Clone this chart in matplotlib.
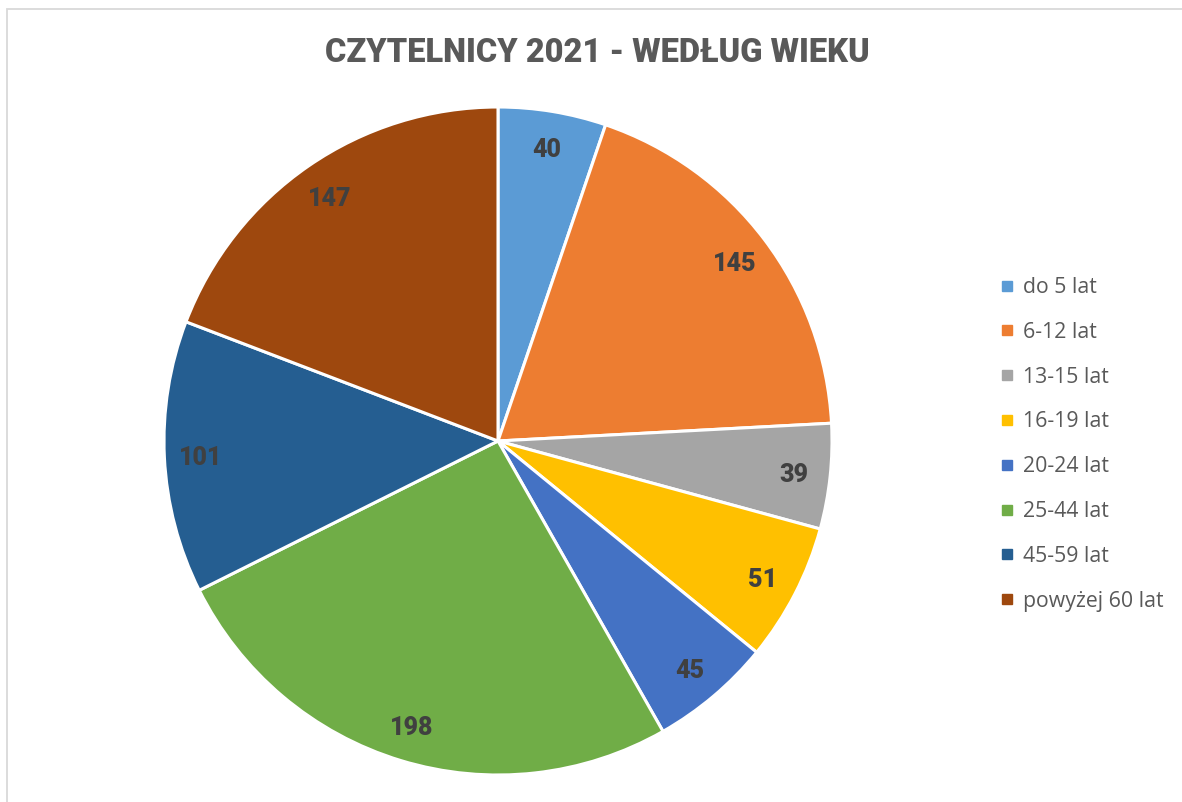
import matplotlib
matplotlib.use("Agg")
import matplotlib.pyplot as plt
from matplotlib.lines import Line2D
from matplotlib.patches import Rectangle

plt.rcParams['font.family'] = ['Open Sans', 'DejaVu Sans']

categories = ['do 5 lat', '6-12 lat', '13-15 lat', '16-19 lat',
              '20-24 lat', '25-44 lat', '45-59 lat', 'powyżej 60 lat']
values = [40, 145, 39, 51, 45, 198, 101, 147]
colors = ['#5B9BD5', '#ED7D31', '#A5A5A5', '#FFC000',
          '#4472C4', '#70AD47', '#255E91', '#9E480E']

W, H = 1182, 802
fig = plt.figure(figsize=(W / 100, H / 100), dpi=100)

# chart border (light grey frame like Excel)
fig.patches.append(Rectangle((6.5 / W, -0.01), 1.2, 1 - 8.5 / H + 0.01,
                             transform=fig.transFigure, fill=False,
                             edgecolor='#D9D9D9', linewidth=1.3))

# pie axes: centre (498, 441) px, radius 334 px
cx, cy, r = 498, 441, 334
ax = fig.add_axes([(cx - r) / W, (H - cy - r) / H, 2 * r / W, 2 * r / H])

wedges, texts = ax.pie(values, colors=colors, startangle=90, counterclock=False,
                       labels=[str(v) for v in values], labeldistance=0.89,
                       wedgeprops=dict(edgecolor='white', linewidth=2.2),
                       textprops=dict(color='#404040', fontsize=18, fontweight='black',
                                      family=['Roboto', 'DejaVu Sans']))
for t in texts:
    t.set_ha('center')
    t.set_va('center_baseline')
ax.set_xlim(-1, 1)
ax.set_ylim(-1, 1)
ax.set_aspect('equal')
ax.axis('off')

fig.text(597 / W, 1 - 53 / H, 'CZYTELNICY 2021 - WEDŁUG WIEKU',
         ha='center', va='center', fontsize=23.5, fontweight='black', color='#595959',
         family=['Roboto', 'DejaVu Sans'])

handles = [Line2D([], [], marker='s', linestyle='none', markersize=6.5,
                  markerfacecolor=c, markeredgecolor=c) for c in colors]
fig.legend(handles, categories, loc='upper left',
           bbox_to_anchor=(1001 / W, 1 - 277 / H), frameon=False,
           fontsize=15.3, labelcolor='#595959', handlelength=0.6,
           handletextpad=0.45, labelspacing=1.12, borderpad=0, borderaxespad=0)

fig.savefig('out.png', dpi=100, facecolor='white')
